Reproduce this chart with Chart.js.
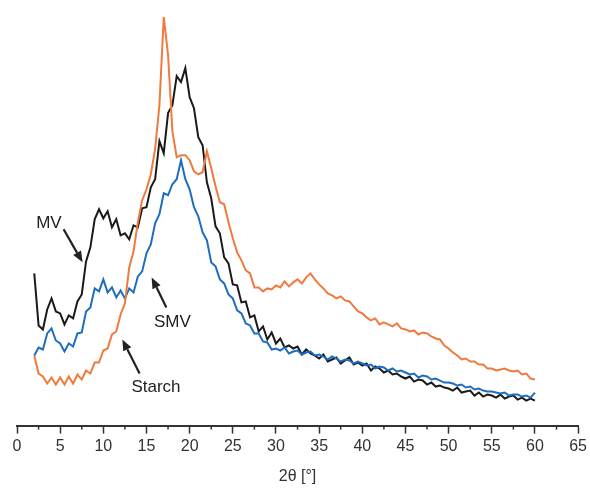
<!DOCTYPE html>
<html>
<head>
<meta charset="utf-8">
<script src="https://cdn.jsdelivr.net/npm/chart.js@4.4.0/dist/chart.umd.min.js"></script>
<style>
  body { margin: 0; background: #ffffff; }
  #wrap { width: 590px; height: 488px; }
</style>
</head>
<body>
<div id="wrap"><canvas id="myChart"></canvas></div>
<script>
// diffraction angle, 2 theta in degrees
const angles = [
  2, 2.5, 3, 3.5, 4, 4.5,
  5, 5.5, 6, 6.5, 7, 7.5, 8, 8.5, 9, 9.5,
  10, 10.5, 11, 11.5, 12, 12.5, 13, 13.5, 14, 14.5,
  15, 15.5, 16, 16.5, 17, 17.5, 18, 18.5, 19, 19.5,
  20, 20.5, 21, 21.5, 22, 22.5, 23, 23.5, 24, 24.5,
  25, 25.5, 26, 26.5, 27, 27.5, 28, 28.5, 29, 29.5,
  30, 30.5, 31, 31.5, 32, 32.5, 33, 33.5, 34, 34.5,
  35, 35.5, 36, 36.5, 37, 37.5, 38, 38.5, 39, 39.5,
  40, 40.5, 41, 41.5, 42, 42.5, 43, 43.5, 44, 44.5,
  45, 45.5, 46, 46.5, 47, 47.5, 48, 48.5, 49, 49.5,
  50, 50.5, 51, 51.5, 52, 52.5, 53, 53.5, 54, 54.5,
  55, 55.5, 56, 56.5, 57, 57.5, 58, 58.5, 59, 59.5,
  60,
];

// intensities (arbitrary units), noise included
const mvValues = [
  152, 100, 96, 116, 127, 114,
  112, 101, 110, 107, 124, 131, 164, 178, 206, 216,
  207, 214, 198, 206, 190, 192, 186, 200, 198, 217,
  218, 238, 246, 284, 272, 312, 320, 349, 343, 357,
  328, 317, 288, 280, 243, 227, 199, 192, 168, 162,
  141, 140, 123, 124, 108, 110, 94, 99, 86, 93,
  82, 87, 78, 80, 77, 79, 71, 76, 72, 70,
  67, 71, 64, 66, 68, 62, 65, 68, 61, 63,
  60, 62, 55, 59, 57, 53, 55, 51, 52, 49,
  47, 49, 44, 46, 45, 41, 43, 39, 40, 38,
  37, 35, 38, 33, 34, 35, 30, 33, 29, 31,
  30, 28, 31, 27, 29, 30, 26, 28, 25, 27,
  25,
];

const smvValues = [
  70, 78, 76, 92, 97, 85,
  82, 74, 82, 79, 92, 93, 114, 118, 137, 134,
  146, 133, 138, 128, 135, 127, 137, 133, 149, 154,
  172, 181, 202, 211, 232, 230, 241, 246, 265, 246,
  236, 218, 209, 193, 185, 163, 159, 146, 142, 131,
  127, 115, 112, 102, 100, 92, 92, 84, 83, 76,
  77, 75, 78, 72, 74, 75, 71, 73, 74, 70,
  71, 69, 66, 69, 67, 64, 66, 65, 62, 64,
  62, 60, 61, 57, 59, 58, 55, 57, 54, 55,
  53, 51, 52, 48, 50, 49, 46, 47, 45, 43,
  43, 42, 40, 41, 38, 39, 36, 37, 35, 34,
  34, 33, 32, 33, 30, 31, 31, 29, 30, 28,
  33,
];

const starchValues = [
  70, 52, 49, 42, 48, 41,
  48, 41, 49, 42, 51, 46, 55, 52, 63, 63,
  75, 77, 91, 94, 111, 122, 158, 174, 203, 225,
  236, 251, 276, 320, 408, 370, 294, 268, 270, 270,
  265, 254, 251, 253, 274, 257, 239, 223, 221, 203,
  187, 173, 165, 155, 152, 138, 138, 134, 137, 136,
  140, 138, 144, 139, 143, 146, 142, 148, 152, 146,
  141, 137, 132, 130, 127, 129, 125, 124, 119, 114,
  112, 108, 105, 107, 101, 103, 101, 99, 102, 97,
  96, 94, 95, 91, 93, 92, 89, 87, 86, 80,
  77, 73, 70, 66, 67, 64, 64, 61, 61, 57,
  57, 55, 56, 57, 55, 54, 55, 51, 52, 47,
  46,
];

const minorTicks = [2.5, 7.5, 12.5, 17.5, 22.5, 27.5, 32.5, 37.5, 42.5, 47.5, 52.5, 57.5, 62.5];

// text labels with arrows, in data units
const callouts = [
  { text: "MV", x: 3.7, y: 202, fromX: 5.4, fromY: 196, toX: 7.6, toY: 163 },
  { text: "SMV", x: 18.0, y: 103, fromX: 17.3, fromY: 118, toX: 15.6, toY: 148 },
  { text: "Starch", x: 16.1, y: 38, fromX: 14.2, fromY: 52, toX: 12.2, toY: 86 },
];

function toPoints(values) {
  let points = [];
  for (let i = 0; i < angles.length; i++) {
    points.push({ x: angles[i], y: values[i] });
  }
  return points;
}

// short ticks between the numbered ones, and the arrows with their text
const extrasPlugin = {
  id: "extras",
  afterDraw(chart) {
    const ctx = chart.ctx;
    const xScale = chart.scales.x;
    const yScale = chart.scales.y;
    const axisY = chart.chartArea.bottom;

    ctx.save();
    ctx.strokeStyle = "#333333";
    ctx.lineWidth = 1.5;
    for (let i = 0; i < minorTicks.length; i++) {
      const px = xScale.getPixelForValue(minorTicks[i]);
      ctx.beginPath();
      ctx.moveTo(px, axisY);
      ctx.lineTo(px, axisY + 4);
      ctx.stroke();
    }

    ctx.fillStyle = "#222222";
    ctx.strokeStyle = "#222222";
    ctx.font = "17px 'Liberation Sans', Arial, sans-serif";
    ctx.textAlign = "center";
    ctx.textBaseline = "middle";
    for (let i = 0; i < callouts.length; i++) {
      const c = callouts[i];
      ctx.fillText(c.text, xScale.getPixelForValue(c.x), yScale.getPixelForValue(c.y));

      const x1 = xScale.getPixelForValue(c.fromX);
      const y1 = yScale.getPixelForValue(c.fromY);
      const x2 = xScale.getPixelForValue(c.toX);
      const y2 = yScale.getPixelForValue(c.toY);
      const angle = Math.atan2(y2 - y1, x2 - x1);
      const headLen = 11;
      const headHalf = 4.5;
      const bx = x2 - headLen * Math.cos(angle);
      const by = y2 - headLen * Math.sin(angle);

      ctx.lineWidth = 2.2;
      ctx.beginPath();
      ctx.moveTo(x1, y1);
      ctx.lineTo(bx, by);
      ctx.stroke();

      ctx.beginPath();
      ctx.moveTo(x2, y2);
      ctx.lineTo(bx + headHalf * Math.sin(angle), by - headHalf * Math.cos(angle));
      ctx.lineTo(bx - headHalf * Math.sin(angle), by + headHalf * Math.cos(angle));
      ctx.closePath();
      ctx.fill();
    }
    ctx.restore();
  },
};

const data = {
  datasets: [
    {
      label: "Starch",
      data: toPoints(starchValues),
      borderColor: "#f07a3e",
      borderWidth: 2,
    },
    {
      label: "SMV",
      data: toPoints(smvValues),
      borderColor: "#1f6dbf",
      borderWidth: 2,
    },
    {
      label: "MV",
      data: toPoints(mvValues),
      borderColor: "#1a1a1a",
      borderWidth: 2,
    },
  ],
};

const config = {
  type: "line",
  data: data,
  options: {
    responsive: true,
    maintainAspectRatio: false,
    animation: false,
    layout: {
      padding: { left: 17, right: 11, top: 10, bottom: 2 },
    },
    elements: {
      point: { radius: 0 },
      line: { tension: 0 },
    },
    plugins: {
      legend: { display: false },
      tooltip: { enabled: false },
    },
    scales: {
      x: {
        type: "linear",
        min: 0,
        max: 65,
        ticks: {
          stepSize: 5,
          color: "#333333",
          padding: 3,
          font: { size: 16, family: "'Liberation Sans', Arial, sans-serif" },
        },
        grid: {
          drawOnChartArea: false,
          drawTicks: true,
          tickLength: 8,
          tickWidth: 1.5,
          tickColor: "#333333",
        },
        border: {
          display: true,
          color: "#333333",
          width: 2,
        },
        title: {
          display: true,
          text: "2θ [°]",
          color: "#333333",
          padding: { top: 8, bottom: 0 },
          font: { size: 16, family: "'Liberation Sans', Arial, sans-serif" },
        },
      },
      y: {
        display: false,
        min: 0,
        max: 415,
      },
    },
  },
  plugins: [extrasPlugin],
};

let canvasChart = document.getElementById("myChart");
const myChart = new Chart(canvasChart, config);
</script>
</body>
</html>
